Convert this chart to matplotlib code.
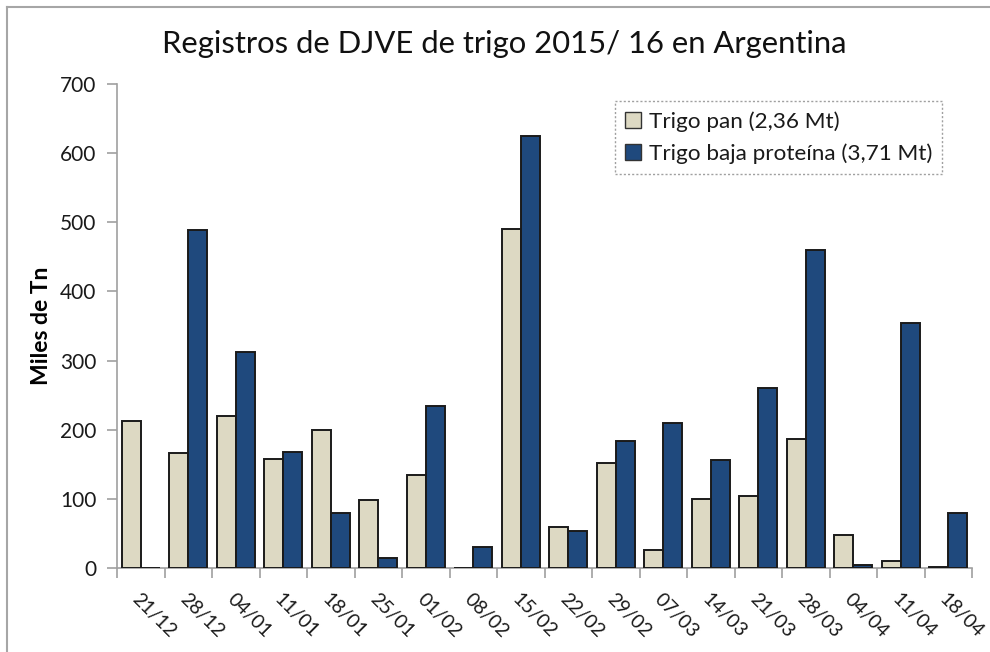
import matplotlib
matplotlib.use("Agg")
import matplotlib.pyplot as plt
import numpy as np
from matplotlib.lines import Line2D
from matplotlib.patches import Patch

categories = ["21/12", "28/12", "04/01", "11/01", "18/01", "25/01", "01/02", "08/02", "15/02",
              "22/02", "29/02", "07/03", "14/03", "21/03", "28/03", "04/04", "11/04", "18/04"]
trigo_pan = [213, 166, 220, 158, 200, 99, 135, 0, 490, 59, 152, 26, 100, 104, 186, 48, 10, 1]
trigo_baja = [0, 489, 313, 168, 80, 14, 235, 31, 625, 53, 184, 210, 156, 261, 460, 5, 354, 79]
series_labels = ["Trigo pan (2,36 Mt)", "Trigo baja proteína (3,71 Mt)"]
yticks = [0, 100, 200, 300, 400, 500, 600, 700]

plt.rcParams['font.family'] = ['Lato', 'DejaVu Sans']

W, H = 990, 652
fig = plt.figure(figsize=(W / 100, H / 100), dpi=100)
ax = fig.add_axes([117 / W, (H - 568) / H, (972 - 117) / W, (568 - 84) / H])

c_pan = "#DDD9C3"
c_baja = "#1F497D"
x = np.arange(len(categories))
bw = 0.4
ax.bar(x - bw / 2, trigo_pan, width=bw, color=c_pan, edgecolor="#1a1a1a", linewidth=1.4, zorder=3)
ax.bar(x + bw / 2, trigo_baja, width=bw, color=c_baja, edgecolor="#1a1a1a", linewidth=1.4, zorder=3)

ax.set_xlim(-0.5, len(categories) - 0.5)
ax.set_ylim(0, 700)
ax.set_yticks(yticks)
ax.set_yticklabels([str(v) for v in yticks], fontsize=15, color="#1a1a1a")

ax.set_xticks(np.arange(len(categories) + 1) - 0.5)
ax.set_xticklabels([])
ax.set_xticks(x, minor=True)
ax.set_xticklabels(categories, minor=True, rotation=-45, rotation_mode="anchor",
                   ha="left", va="top", fontsize=14, color="#1a1a1a")
ax.tick_params(axis="x", which="minor", length=0, pad=16)
ax.tick_params(axis="x", which="major", length=7, color="#A0A0A0", width=1.2, direction="out")
ax.tick_params(axis="y", length=7, color="#A0A0A0", width=1.2, direction="out", pad=8)

for s in ["top", "right"]:
    ax.spines[s].set_visible(False)
for s in ["left", "bottom"]:
    ax.spines[s].set_color("#A0A0A0")
    ax.spines[s].set_linewidth(1.2)

ax.set_ylabel("Miles de Tn", fontsize=16.5, fontweight="bold")
ax.yaxis.set_label_coords(-(117 - 52) / (972 - 117), 0.5)

fig.text(504 / W, 1 - 44 / H, "Registros de DJVE de trigo 2015/ 16 en Argentina",
         ha="center", va="center", fontsize=22.3, color="#111111")

handles = [Patch(facecolor=c_pan, edgecolor="#333333", linewidth=1.0),
           Patch(facecolor=c_baja, edgecolor="#333333", linewidth=1.0)]
leg = fig.legend(handles, series_labels, loc="upper left",
                 bbox_to_anchor=(615 / W, 1 - 101 / H), fontsize=16.2,
                 frameon=True, fancybox=False, handlelength=0.7, handleheight=0.7,
                 handletextpad=0.35, labelspacing=0.5, borderpad=0.45, borderaxespad=0)
fr = leg.get_frame()
fr.set_edgecolor("#888888")
fr.set_linestyle((0, (1.5, 1.5)))
fr.set_linewidth(1.0)
for t in leg.get_texts():
    t.set_color("#1a1a1a")

# outer chart frame (top and left visible)
fig.add_artist(Line2D([7 / W, 7 / W], [0, 1 - 7 / H], color="#A6A6A6", lw=1.5))
fig.add_artist(Line2D([7 / W, 1], [1 - 7 / H, 1 - 7 / H], color="#A6A6A6", lw=1.5))

fig.savefig("out.png", dpi=100)
